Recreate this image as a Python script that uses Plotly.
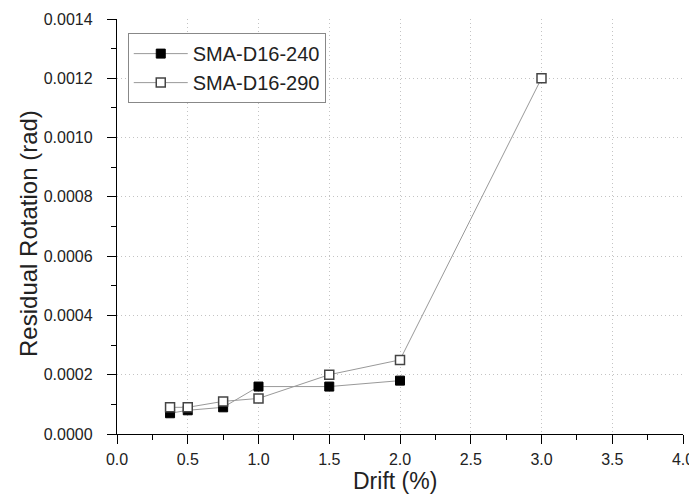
import plotly.graph_objects as go

drift = [0.375, 0.5, 0.75, 1.0, 1.5, 2.0]
sma240 = [0.00007, 0.00008, 0.00009, 0.00016, 0.00016, 0.00018]
drift290 = [0.375, 0.5, 0.75, 1.0, 1.5, 2.0, 3.0]
sma290 = [0.00009, 0.00009, 0.00011, 0.00012, 0.0002, 0.00025, 0.0012]

x_title = 'Drift (%)'
y_title = 'Residual Rotation (rad)'

fig = go.Figure()
fig.add_trace(go.Scatter(x=drift, y=sma240, mode='lines+markers', name='SMA-D16-240',
                         line=dict(color='#999999', width=1),
                         marker=dict(symbol='square', size=9, color='black',
                                     line=dict(color='black', width=1))))
fig.add_trace(go.Scatter(x=drift290, y=sma290, mode='lines+markers', name='SMA-D16-290',
                         line=dict(color='#999999', width=1),
                         marker=dict(symbol='square', size=9, color='white',
                                     line=dict(color='#444444', width=1.5))))

axis_common = dict(showline=True, linecolor='black', linewidth=1.3, ticks='outside',
                   ticklen=9, tickcolor='black', tickwidth=1.3, showgrid=True,
                   gridcolor='#c4c4c4', griddash='1px,3px', gridwidth=1,
                   zeroline=False, mirror=False, automargin=False,
                   tickfont=dict(size=16, color='#222222'))

fig.update_layout(
    width=689, height=487,
    paper_bgcolor='white', plot_bgcolor='white',
    margin=dict(l=109, r=14, t=11, b=61),
    font=dict(family='Liberation Sans, Arial, sans-serif', color='#222222'),
    showlegend=True,
    legend=dict(x=0.019, y=0.966, xanchor='left', yanchor='top',
                bordercolor='#888888', borderwidth=1, bgcolor='white',
                font=dict(size=20), tracegroupgap=0, itemwidth=54,
                entrywidth=168, entrywidthmode='pixels'),
    xaxis=dict(range=[0, 4.0], dtick=0.5, tickformat='.1f', ticklabelstandoff=2,
               minor=dict(ticks='outside', ticklen=5, tickcolor='black', tickwidth=1.3,
                          dtick=0.25, showgrid=False),
               **axis_common),
    yaxis=dict(range=[0, 0.0014], dtick=0.0002, tickformat='.4f', ticklabelstandoff=11,
               minor=dict(ticks='outside', ticklen=5, tickcolor='black', tickwidth=1.3,
                          dtick=0.0001, showgrid=False),
               **axis_common),
    annotations=[
        dict(text=x_title, xref='paper', yref='paper', x=0.491, y=0, yshift=-47,
             xanchor='center', yanchor='middle', showarrow=False,
             font=dict(size=23, color='#222222')),
        dict(text=y_title, xref='paper', yref='paper', x=0, y=0.482, xshift=-88,
             xanchor='center', yanchor='middle', textangle=-90, showarrow=False,
             font=dict(size=24, color='#222222')),
    ],
)

fig.write_html('out.html')
